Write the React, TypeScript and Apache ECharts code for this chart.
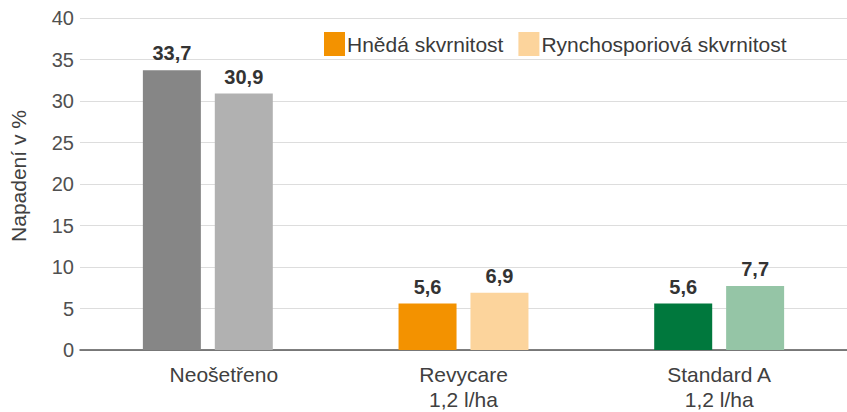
import React, { useEffect, useRef } from "react";
import * as echarts from "echarts";

const categories = ["Neošetřeno", "Revycare\n1,2 l/ha", "Standard A\n1,2 l/ha"];
const seriesNames = ["Hnědá skvrnitost", "Rynchosporiová skvrnitost"];
const hnedaValues = [33.7, 5.6, 5.6];
const rynchoValues = [30.9, 6.9, 7.7];
const hnedaColors = ["#868686", "#f39200", "#00783d"];
const rynchoColors = ["#b1b1b1", "#fcd49c", "#95c5a6"];
const yTicks = { min: 0, max: 40, interval: 5 };

export default function App() {
  const ref = useRef<HTMLDivElement>(null);
  useEffect(() => {
    if (!ref.current) return;
    const chart = echarts.init(ref.current, undefined, { renderer: "svg" });
    const font = "Liberation Sans, Arial, sans-serif";
    const labelCfg = {
      show: true,
      position: "top" as const,
      distance: 7,
      fontFamily: font,
      fontSize: 20,
      fontWeight: "bold" as const,
      color: "#333333",
      formatter: (p: any) => String(p.value).replace(".", ","),
    };
    chart.setOption({
      animation: false,
      textStyle: { fontFamily: font },
      grid: { left: 77, right: 0, top: 18, bottom: 62, containLabel: false },
      legend: {
        top: 27,
        left: 319,
        itemWidth: 21,
        itemHeight: 24,
        itemGap: 15,
        icon: "rect",
        textStyle: { fontFamily: font, fontSize: 21, color: "#3a3a3a", padding: [0, 0, 0, -3] },
        data: seriesNames,
      },
      xAxis: {
        type: "category",
        data: categories.map((c, i) =>
          i === 0 ? { value: c, textStyle: { padding: [0, 0, 0, 32] } } : c
        ),
        axisTick: { show: false },
        axisLine: { show: true, lineStyle: { color: "#555555", width: 1.5 } },
        axisLabel: {
          fontFamily: font,
          fontSize: 21,
          color: "#404040",
          lineHeight: 25,
          margin: 12,
        },
      },
      yAxis: {
        type: "value",
        min: yTicks.min,
        max: yTicks.max,
        interval: yTicks.interval,
        name: "Napadení v %",
        nameLocation: "middle",
        nameGap: 51,
        nameTextStyle: { fontFamily: font, fontSize: 21, color: "#404040", padding: [0, 0, 0, 16] },
        axisLine: { show: false },
        axisTick: { show: false },
        axisLabel: { fontFamily: font, fontSize: 20, color: "#505050", margin: 6 },
        splitLine: { lineStyle: { color: "#dddddd", width: 1.2 } },
      },
      series: [
        {
          name: seriesNames[0],
          type: "bar",
          barWidth: 58,
          barGap: "24%",
          itemStyle: { color: hnedaColors[1] },
          label: labelCfg,
          data: hnedaValues.map((v, i) => ({ value: v, itemStyle: { color: hnedaColors[i] } })),
        },
        {
          name: seriesNames[1],
          type: "bar",
          barWidth: 58,
          barGap: "24%",
          itemStyle: { color: rynchoColors[1] },
          label: labelCfg,
          data: rynchoValues.map((v, i) => ({ value: v, itemStyle: { color: rynchoColors[i] } })),
        },
      ],
    });
    return () => chart.dispose();
  }, []);
  return (
    <div
      ref={ref}
      style={{ position: "absolute", left: 0, top: 0, width: 847, height: 412, background: "#ffffff" }}
    />
  );
}
